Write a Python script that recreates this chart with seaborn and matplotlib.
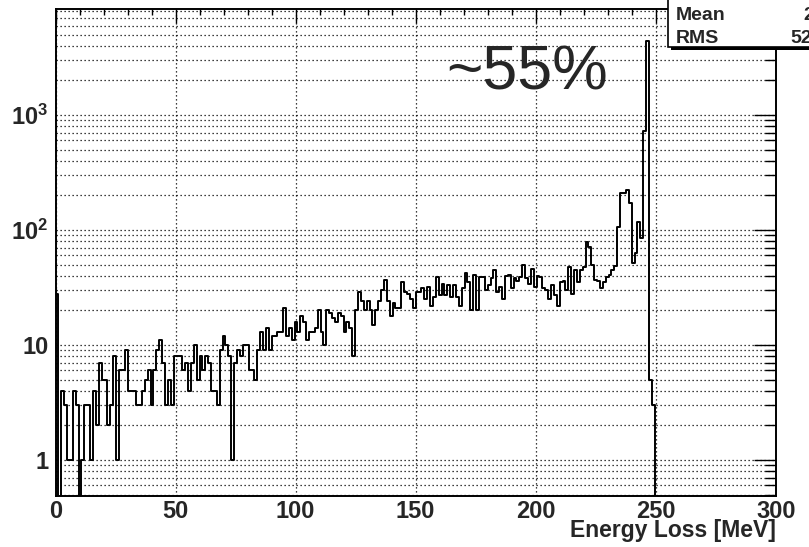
import numpy as np
import pandas as pd
import matplotlib
matplotlib.use("Agg")
import matplotlib.pyplot as plt
from matplotlib.patches import Rectangle
from matplotlib.ticker import MultipleLocator, FixedLocator, FixedFormatter, LogLocator, NullFormatter
import seaborn as sns

# ---- histogram definition: 250 bins of 1.2 MeV between 0 and 300 MeV ----
x_min, x_max, n_bins = 0.0, 300.0, 250

# bin contents, 0 - 61.2 MeV
counts_low = [28, 0, 4, 3, 1, 1, 4, 3, 0, 1,
              3, 3, 1, 4, 2, 7, 5, 5, 2, 3,
              8, 1, 6, 6, 9, 4, 4, 4, 3, 3,
              4, 5, 6, 3, 6, 9, 11, 7, 3, 5,
              3, 8, 8, 8, 6, 7, 4, 7, 10, 5,
              8]
# 61.2 - 122.4 MeV
counts_rise = [6, 8, 7, 4, 4, 3, 9, 12, 10, 8,
               1, 7, 9, 8, 10, 10, 6, 6, 5, 9,
               13, 9, 14, 9, 12, 12, 13, 13, 21, 12,
               14, 11, 16, 13, 18, 16, 11, 13, 13, 14,
               20, 13, 10, 20, 19, 17, 16, 19, 18, 13,
               16]
# 122.4 - 181.2 MeV
counts_plateau = [14, 8, 20, 29, 24, 20, 24, 20, 15, 20,
                  24, 30, 37, 24, 18, 23, 21, 21, 35, 29,
                  28, 25, 21, 29, 29, 31, 25, 32, 22, 26,
                  39, 27, 34, 27, 33, 26, 33, 26, 22, 31,
                  42, 35, 20, 41, 20, 39, 39, 30, 33]
# 181.2 - 234.0 MeV
counts_upper = [38, 45, 29, 32, 25, 40, 41, 31, 38, 36,
                39, 50, 38, 34, 46, 32, 40, 39, 31, 30,
                25, 33, 27, 22, 35, 36, 30, 48, 28, 45,
                35, 45, 48, 78, 71, 50, 37, 36, 31, 35,
                39, 41, 45, 49]
# 234.0 - 249.6 MeV (full-energy peak)
counts_peak = [107, 210, 210, 222, 170, 52, 63, 118, 85, 720,
               4400, 5, 3]
# 249.6 - 300 MeV
counts_tail = [0] * 42

stats_labels = ["Mean", "RMS"]
stats_values = ["217.3", "52.53"]
annotation = "~55%"
x_label = "Energy Loss [MeV]"
x_ticks = [0, 50, 100, 150, 200, 250, 300]
y_ticks = [1, 10, 100, 1000]
y_tick_labels = ["1", "10", r"$\mathbf{10^{2}}$", r"$\mathbf{10^{3}}$"]

counts = np.array(counts_low + counts_rise + counts_plateau +
                  counts_upper + counts_peak + counts_tail, dtype=float)
edges = np.linspace(x_min, x_max, n_bins + 1)
centers = 0.5 * (edges[:-1] + edges[1:])
df = pd.DataFrame({"energy": centers, "entries": counts})

# ---- style ----
sns.set_style("white")
plt.rcParams["font.family"] = ["Liberation Sans", "DejaVu Sans"]
plt.rcParams["font.weight"] = "bold"
plt.rcParams["mathtext.fontset"] = "custom"
plt.rcParams["mathtext.bf"] = "Liberation Sans:bold"
plt.rcParams["mathtext.rm"] = "Liberation Sans:bold"

W, H, DPI = 809, 547, 100
fig = plt.figure(figsize=(W / DPI, H / DPI), dpi=DPI, facecolor="white")
L, R, T, B = 55.5, 775.7, 9.0, 496.0
ax = fig.add_axes([L / W, 1 - B / H, (R - L) / W, (B - T) / H])

sns.histplot(data=df, x="energy", weights="entries", bins=edges.tolist(),
             element="step", fill=False, color="black", linewidth=1.4,
             ax=ax, zorder=3)
ax.set_yscale("log")
ax.set_xlim(x_min, x_max)
ax.set_ylim(0.486, 8350)

# axis ticks
ax.xaxis.set_major_locator(FixedLocator(x_ticks))
ax.xaxis.set_major_formatter(FixedFormatter([str(t) for t in x_ticks]))
ax.xaxis.set_minor_locator(MultipleLocator(10))
ax.yaxis.set_major_locator(FixedLocator(y_ticks))
ax.yaxis.set_major_formatter(FixedFormatter(y_tick_labels))
ax.yaxis.set_minor_locator(LogLocator(base=10, subs=np.arange(2, 10), numticks=20))
ax.yaxis.set_minor_formatter(NullFormatter())

ax.tick_params(which="both", direction="in", top=True, right=True,
               width=1.0, color="black", labelsize=17)
ax.xaxis.set_tick_params(which="major", length=10, pad=3)
ax.xaxis.set_tick_params(which="minor", length=4.5)
ax.yaxis.set_tick_params(which="major", length=16, pad=5)
ax.yaxis.set_tick_params(which="minor", length=8)
for lab in ax.get_xticklabels() + ax.get_yticklabels():
    lab.set_fontweight("bold")

# dotted grid
grid_kw = dict(color="black", linestyle=(0, (1, 2.2)), linewidth=0.9)
ax.grid(True, which="major", axis="x", **grid_kw)
ax.grid(True, which="both", axis="y", **grid_kw)
ax.set_axisbelow(True)

for sp in ax.spines.values():
    sp.set_linewidth(1.4)
    sp.set_color("black")

ax.set_xlabel("")
ax.set_ylabel("")
fig.text(R / W, 1 - 531 / H, x_label, ha="right", va="center",
         fontsize=16.5, fontweight="bold")

# large annotation
fig.text(446 / W, 1 - 90 / H, annotation, ha="left", va="baseline",
         fontsize=45, fontweight="normal")

# statistics box in the top-right corner
shadow = Rectangle((671 / W, 1 - 50 / H), 200 / W, 60 / H,
                   transform=fig.transFigure, facecolor="black",
                   edgecolor="none", zorder=20)
box = Rectangle((668 / W, 1 - 47 / H), 200 / W, 60 / H,
                transform=fig.transFigure, facecolor="white",
                edgecolor="black", linewidth=1.2, zorder=21)
fig.add_artist(shadow)
fig.add_artist(box)
stat_rows = [(20, 803), (43, 790)]
for (base_y, val_x), name, val in zip(stat_rows, stats_labels, stats_values):
    fig.text(676 / W, 1 - base_y / H, name, ha="left", va="baseline",
             fontsize=14, fontweight="bold", zorder=22)
    fig.text(val_x / W, 1 - base_y / H, val, ha="left", va="baseline",
             fontsize=14, fontweight="bold", zorder=22)

fig.savefig("out.png", dpi=DPI, facecolor="white")
